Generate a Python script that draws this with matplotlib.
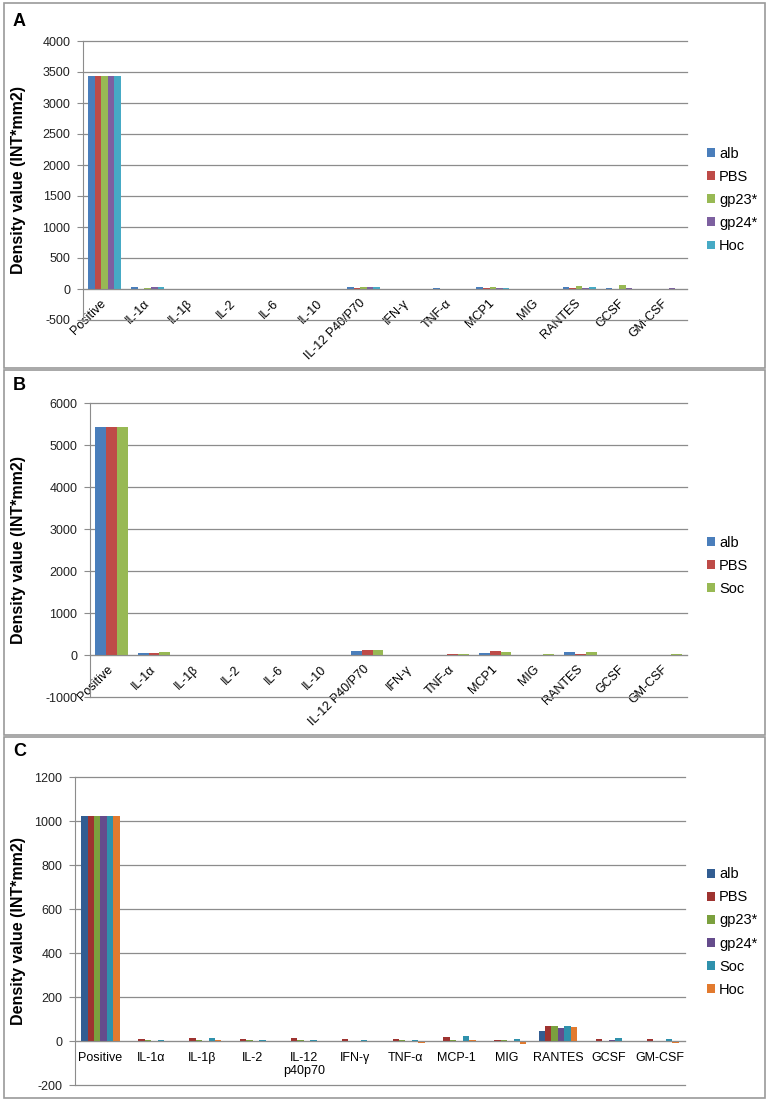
import numpy as np
import matplotlib
matplotlib.use('Agg')
import matplotlib.pyplot as plt
from matplotlib.patches import Rectangle

plt.rcParams['font.family'] = ['Liberation Sans', 'DejaVu Sans']
plt.rcParams['axes.unicode_minus'] = False

W, H = 769, 1102

# ---- data ----
cats_ab = ['Positive', 'IL-1α', 'IL-1β', 'IL-2', 'IL-6', 'IL-10', 'IL-12 P40/P70',
           'IFN-γ', 'TNF-α', 'MCP1', 'MIG', 'RANTES', 'GCSF', 'GM-CSF']
cats_c = ['Positive', 'IL-1α', 'IL-1β', 'IL-2', 'IL-12\np40p70', 'IFN-γ', 'TNF-α',
          'MCP-1', 'MIG', 'RANTES', 'GCSF', 'GM-CSF']

# panel A
a_alb  = [3440, 30, -15, -15, 0, 0, 30, 0, 10, 40, 0, 40, 15, 0]
a_pbs  = [3440, 5, -15, -15, -10, -15, 20, 0, 0, 10, 0, 10, 0, 0]
a_gp23 = [3440, 15, -15, -10, 0, 0, 25, 0, 0, 35, 0, 45, 60, 0]
a_gp24 = [3440, 25, 0, 0, 0, 0, 30, 0, 0, 20, 0, 20, 10, 15]
a_hoc  = [3440, 25, -10, -15, 0, 0, 25, 0, 0, 10, 0, 35, 0, 0]

# panel B
b_alb = [5430, 40, -20, 0, 0, 0, 90, 0, 0, 40, 0, 70, 0, 0]
b_pbs = [5430, 40, -20, -20, 0, 0, 110, 0, 15, 100, 0, 15, 0, 0]
b_soc = [5430, 60, -20, 0, 0, -10, 130, 0, 15, 80, 15, 60, 0, 15]

# panel C
c_alb  = [1025, -3, 0, -3, -3, -3, -3, 0, -3, 45, -3, -3]
c_pbs  = [1025, 8, 12, 8, 12, 8, 8, 20, 3, 67, 8, 8]
c_gp23 = [1025, 5, 4, 4, 4, 0, 4, 3, 3, 67, 0, 0]
c_gp24 = [1025, 0, 0, 0, -3, -3, -3, 0, -3, 60, 3, -3]
c_soc  = [1025, 4, 12, 4, 4, 4, 4, 23, 8, 67, 15, 8]
c_hoc  = [1025, 2, 3, 2, -4, -4, -8, 3, -12, 63, -3, -10]

names_a = ['alb', 'PBS', 'gp23*', 'gp24*', 'Hoc']
names_b = ['alb', 'PBS', 'Soc']
names_c = ['alb', 'PBS', 'gp23*', 'gp24*', 'Soc', 'Hoc']

cols_a = ['#4A7EBB', '#BE4B48', '#98B954', '#7D60A0', '#46AAC5']
cols_b = ['#4A7EBB', '#BE4B48', '#98B954']
cols_c = ['#325D92', '#9E3330', '#7BA03E', '#654C8C', '#2F91AC', '#E27A2E']

GRID = '#8C8C8C'

fig = plt.figure(figsize=(W / 100, H / 100), dpi=100)


def px_axes(left, top, right, bottom):
    return fig.add_axes([left / W, 1 - bottom / H, (right - left) / W, (bottom - top) / H])


def panel(box, cats, series, names, colors, ylim, step, rotated, leg_xy, letter):
    left, top, right, bottom = box
    ax = px_axes(left, top, right, bottom)
    x = np.arange(len(cats))
    n = len(series)
    w = 0.76 / n
    for i, (vals, nm, col) in enumerate(zip(series, names, colors)):
        ax.bar(x - 0.38 + w * (i + 0.5), vals, w, color=col, label=nm, zorder=3, linewidth=0)
    ax.set_xlim(-0.5, len(cats) - 0.5)
    ax.set_ylim(*ylim)
    ax.set_yticks(np.arange(ylim[0], ylim[1] + 1, step))
    ax.yaxis.grid(True, color=GRID, lw=0.9, zorder=0)
    for gl in ax.get_ygridlines():
        gl.set_clip_on(False)
    for s in ['top', 'right']:
        ax.spines[s].set_visible(False)
    ax.spines['left'].set_color(GRID)
    ax.spines['bottom'].set_color(GRID)
    ax.spines['bottom'].set_position(('data', 0))
    ax.spines['bottom'].set_zorder(4)
    ax.tick_params(axis='y', length=4, color=GRID, labelsize=9, pad=5, labelcolor='#222222')
    ax.set_xticks(x)
    if rotated:
        ax.set_xticklabels(cats, rotation=45, ha='right', va='center',
                           rotation_mode='anchor', fontsize=9)
        ax.tick_params(axis='x', length=0, pad=9)
    else:
        ax.set_xticklabels(cats, fontsize=9, linespacing=1.1)
        ax.tick_params(axis='x', length=0, pad=8)
    ax.set_ylabel('Density value (INT*mm2)', fontsize=11.5, fontweight='bold')
    ax.yaxis.set_label_coords(-(left - 26) / (right - left), 0.5)
    ax.legend(loc='center left', bbox_to_anchor=(leg_xy[0] / W, 1 - leg_xy[1] / H),
              bbox_transform=fig.transFigure, frameon=False, fontsize=10.5,
              handlelength=0.55, handleheight=0.55, handletextpad=0.25,
              labelspacing=0.62, borderpad=0)
    fig.text(13 / W, 1 - letter[1] / H, letter[0], fontsize=13, fontweight='bold',
             va='center', ha='left')
    return ax


# panel frames
for y0, y1 in [(3, 368), (370, 735), (737, 1098)]:
    fig.add_artist(Rectangle((4 / W, 1 - y1 / H), 761 / W, (y1 - y0) / H,
                             transform=fig.transFigure, fill=False, ec='#9A9A9A', lw=1.2))

panel((83, 41, 687, 320), cats_ab, [a_alb, a_pbs, a_gp23, a_gp24, a_hoc], names_a, cols_a,
      (-500, 4000), 500, True, (700, 200), ('A', 21))
panel((90, 403, 687, 697), cats_ab, [b_alb, b_pbs, b_soc], names_b, cols_b,
      (-1000, 6000), 1000, True, (700, 566), ('B', 385))
panel((75, 777, 685, 1085), cats_c, [c_alb, c_pbs, c_gp23, c_gp24, c_soc, c_hoc], names_c, cols_c,
      (-200, 1200), 200, False, (700, 932), ('C', 752))

fig.savefig('out.png', dpi=100)
